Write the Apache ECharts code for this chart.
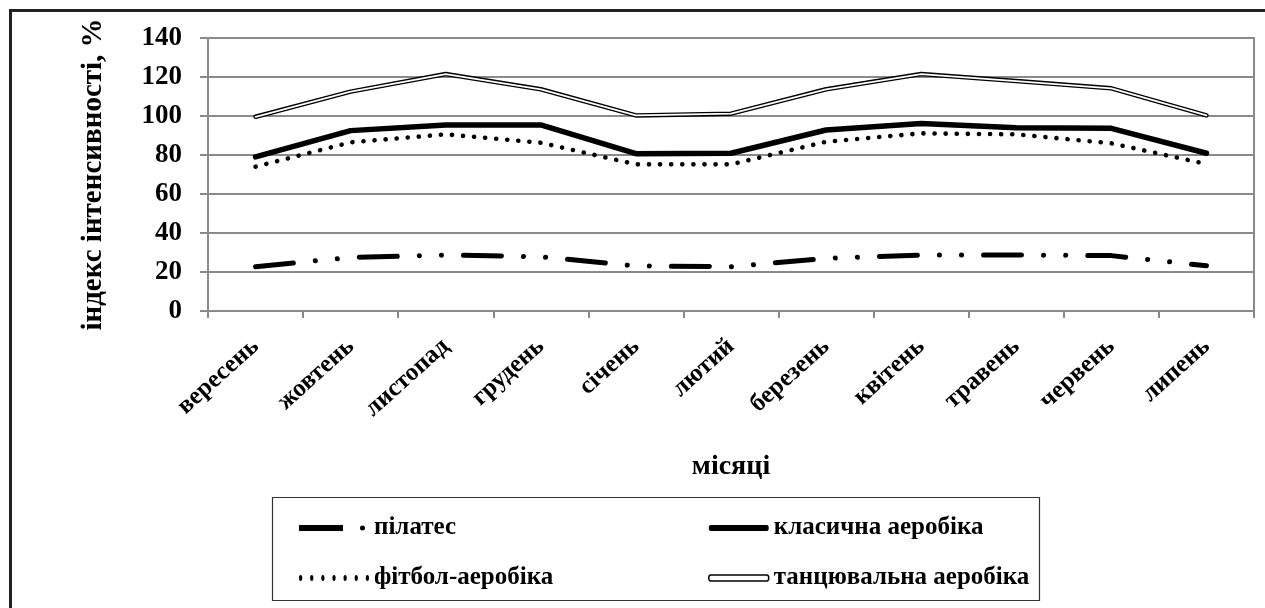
<!DOCTYPE html>
<html>
<head>
<meta charset="utf-8">
<style>
  html, body { margin: 0; padding: 0; background: #fff; }
  #chart { width: 1265px; height: 608px; }
</style>
<script src="https://cdn.jsdelivr.net/npm/echarts@6/dist/echarts.min.js"></script>
</head>
<body>
<div id="chart"></div>
<script>
const categories = ['вересень','жовтень','листопад','грудень','січень','лютий','березень','квітень','травень','червень','липень'];
const pilates = [22.7, 27.5, 28.7, 27.8, 23.1, 22.7, 27.0, 28.7, 28.7, 28.4, 23.2];
const classic = [79.0, 92.5, 95.4, 95.4, 80.7, 80.9, 92.8, 96.2, 94.0, 93.7, 80.9];
const fitbol  = [74.0, 86.5, 90.6, 86.3, 75.2, 75.2, 86.8, 91.1, 90.6, 86.0, 75.4];
const dance   = [99.6, 112.5, 121.5, 113.7, 100.3, 101.2, 113.7, 121.5, 117.9, 114.2, 100.3];
const seriesNames = ['пілатес', 'класична аеробіка', 'фітбол-аеробіка', 'танцювальна аеробіка'];
const yAxisTitle = 'індекс інтенсивності, %';
const xAxisTitle = 'місяці';

const FONT = '"Liberation Serif", "Times New Roman", serif';
const GRID = '#8a8a8a';

function dots(n, step, r, cy) {
  let p = '';
  for (let i = 0; i < n; i++) {
    const cx = r + i * step;
    p += 'M' + (cx - r) + ',' + cy + ' a' + r + ',' + r + ' 0 1,0 ' + (2*r) + ',0 a' + r + ',' + r + ' 0 1,0 ' + (-2*r) + ',0 ';
  }
  return p;
}

const chart = echarts.init(document.getElementById('chart'), null, { renderer: 'canvas' });
const legendText = { fontFamily: FONT, fontWeight: 'bold', fontSize: 25, color: '#000', lineHeight: 30 };

chart.setOption({
  backgroundColor: '#fff',
  animation: false,
  graphic: [
    { type: 'rect', z: 0, shape: { x: 10.5, y: 10.5, width: 1300, height: 700 }, style: { fill: 'none', stroke: '#222', lineWidth: 3 } },
    { type: 'rect', z: 0, shape: { x: 272.5, y: 497.5, width: 767, height: 103 }, style: { fill: '#fff', stroke: '#333', lineWidth: 1.2 } }
  ],
  grid: { left: 208, top: 38, width: 1046, height: 273, show: true, borderColor: GRID, borderWidth: 2, backgroundColor: 'transparent' },
  xAxis: {
    type: 'category',
    data: categories,
    boundaryGap: true,
    name: xAxisTitle,
    nameLocation: 'middle',
    nameGap: 142,
    nameTextStyle: { fontFamily: FONT, fontWeight: 'bold', fontSize: 28, color: '#000' },
    axisLine: { lineStyle: { color: GRID, width: 2 } },
    axisTick: { show: true, length: 7, lineStyle: { color: GRID, width: 2 } },
    axisLabel: { rotate: 42, margin: 32, fontFamily: FONT, fontWeight: 'bold', fontSize: 25, color: '#000', interval: 0 },
    splitLine: { show: false }
  },
  yAxis: {
    type: 'value',
    min: 0, max: 140, interval: 20,
    name: yAxisTitle,
    nameLocation: 'middle',
    nameRotate: 90,
    nameGap: 100,
    nameTextStyle: { fontFamily: FONT, fontWeight: 'bold', fontSize: 29, color: '#000' },
    axisLine: { show: true, lineStyle: { color: GRID, width: 2 } },
    axisTick: { show: true, length: 8, lineStyle: { color: GRID, width: 2 } },
    axisLabel: { margin: 26, fontFamily: FONT, fontWeight: 'bold', fontSize: 27, color: '#000' },
    splitLine: { show: true, lineStyle: { color: GRID, width: 2 } }
  },
  legend: [
    {
      orient: 'vertical', left: 299, top: 513, padding: 0, itemWidth: 70, itemHeight: 6, itemGap: 20,
      symbolKeepAspect: false, selectedMode: false, textStyle: legendText,
      data: [
        { name: seriesNames[0], icon: 'path://M0,0 H44 V6 H0 Z M61,3 a2.5,2.5 0 1,0 5,0 a2.5,2.5 0 1,0 -5,0 M70,3 L70,3.01', itemStyle: { color: '#000', borderWidth: 0 } },
        { name: seriesNames[2], icon: 'path://' + dots(7, 11, 1.6, 3), itemStyle: { color: '#000', borderWidth: 0 } }
      ]
    },
    {
      orient: 'vertical', left: 708, top: 513, padding: 0, itemWidth: 60, itemHeight: 6, itemGap: 20,
      symbolKeepAspect: false, selectedMode: false, textStyle: legendText,
      data: [
        { name: seriesNames[1], icon: 'path://M2,0 H58 A2,3 0 0,1 58,6 H2 A2,3 0 0,1 2,0 Z', itemStyle: { color: '#000', borderWidth: 0 } },
        { name: seriesNames[3], icon: 'path://M2,0 H58 A2,3 0 0,1 58,6 H2 A2,3 0 0,1 2,0 Z', itemStyle: { color: '#fff', borderColor: '#000', borderWidth: 1.5 } }
      ]
    }
  ],
  series: [
    {
      name: seriesNames[0], type: 'line', data: pilates, symbol: 'none', z: 3,
      itemStyle: { color: '#000' },
      lineStyle: { color: '#000', width: 5, cap: 'round', join: 'round', type: [38, 22, 0.1, 22, 0.1, 22] }
    },
    {
      name: seriesNames[1], type: 'line', data: classic, symbol: 'none', z: 3,
      itemStyle: { color: '#000' },
      lineStyle: { color: '#000', width: 5.5, cap: 'round', join: 'round' }
    },
    {
      name: seriesNames[2], type: 'line', data: fitbol, symbol: 'none', z: 3,
      itemStyle: { color: '#000' },
      lineStyle: { color: '#000', width: 4.6, cap: 'round', join: 'round', type: [0.1, 11] }
    },
    {
      name: seriesNames[3], type: 'line', data: dance, symbol: 'none', z: 3,
      itemStyle: { color: '#000' },
      lineStyle: { color: '#000', width: 4.5, cap: 'round', join: 'round' }
    },
    {
      name: 'dance-inner', type: 'line', data: dance, symbol: 'none', z: 4,
      itemStyle: { color: '#fff' },
      lineStyle: { color: '#fff', width: 1.8, cap: 'round', join: 'round' },
      silent: true
    }
  ]
});
</script>
</body>
</html>
